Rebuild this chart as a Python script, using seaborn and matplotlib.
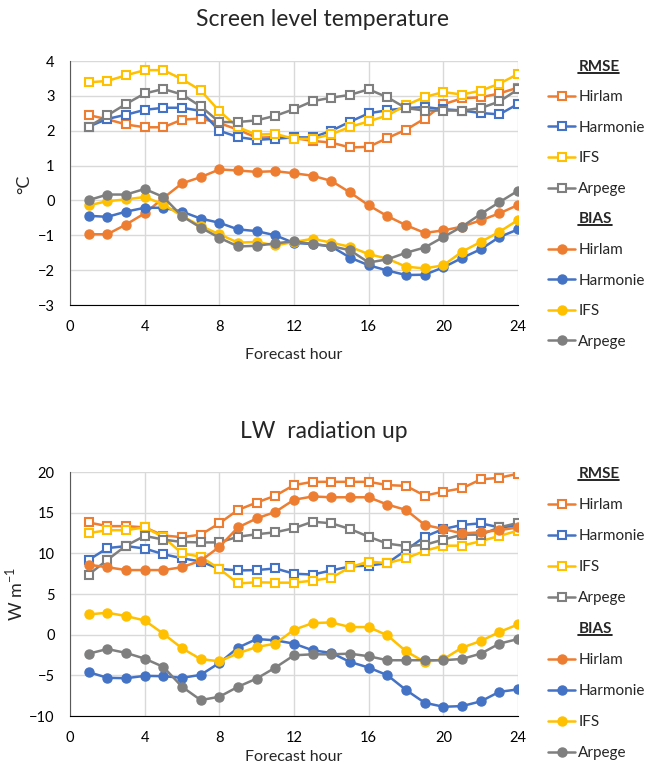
import matplotlib
matplotlib.use("Agg")
import matplotlib.pyplot as plt
from matplotlib.lines import Line2D
from matplotlib.ticker import MultipleLocator
import pandas as pd
import seaborn as sns

hours = list(range(1, 25))
models = ["Hirlam", "Harmonie", "IFS", "Arpege"]
colors = {"Hirlam": "#ED7D31", "Harmonie": "#4472C4", "IFS": "#FFC000", "Arpege": "#7F7F7F"}

# screen level temperature (deg C)
t2m_rmse = {
    "Hirlam": [2.45, 2.33, 2.18, 2.10, 2.10, 2.32, 2.35, 2.22, 2.03, 1.80, 1.82, 1.79,
               1.71, 1.66, 1.52, 1.54, 1.79, 2.03, 2.35, 2.76, 2.93, 2.96, 3.07, 3.24],
    "Harmonie": [2.12, 2.34, 2.46, 2.60, 2.66, 2.66, 2.57, 2.00, 1.82, 1.74, 1.77, 1.81,
                 1.81, 2.00, 2.26, 2.50, 2.59, 2.65, 2.68, 2.62, 2.58, 2.51, 2.47, 2.77],
    "IFS": [3.39, 3.43, 3.59, 3.74, 3.74, 3.48, 3.16, 2.56, 2.10, 1.89, 1.91, 1.77,
            1.77, 1.90, 2.11, 2.27, 2.44, 2.73, 2.97, 3.11, 3.04, 3.15, 3.35, 3.63],
    "Arpege": [2.12, 2.44, 2.77, 3.07, 3.20, 3.04, 2.70, 2.25, 2.25, 2.30, 2.43, 2.62,
               2.85, 2.95, 3.03, 3.19, 2.96, 2.65, 2.58, 2.58, 2.58, 2.65, 2.84, 3.19],
}
t2m_bias = {
    "Hirlam": [-0.97, -0.97, -0.69, -0.37, 0.07, 0.49, 0.67, 0.89, 0.86, 0.82, 0.84, 0.78,
               0.71, 0.56, 0.23, -0.14, -0.45, -0.71, -0.93, -0.86, -0.75, -0.57, -0.37, -0.13],
    "Harmonie": [-0.44, -0.47, -0.32, -0.21, -0.21, -0.32, -0.52, -0.64, -0.83, -0.88, -1.00, -1.22,
                 -1.25, -1.32, -1.64, -1.86, -2.01, -2.14, -2.13, -1.92, -1.65, -1.40, -1.05, -0.83],
    "IFS": [-0.14, -0.02, 0.03, 0.10, -0.11, -0.45, -0.73, -0.97, -1.21, -1.19, -1.29, -1.19,
            -1.10, -1.21, -1.33, -1.54, -1.67, -1.90, -1.95, -1.86, -1.47, -1.19, -0.90, -0.56],
    "Arpege": [0.01, 0.17, 0.17, 0.33, 0.10, -0.45, -0.78, -1.07, -1.32, -1.30, -1.23, -1.17,
               -1.25, -1.31, -1.43, -1.78, -1.69, -1.50, -1.35, -1.05, -0.75, -0.39, -0.05, 0.28],
}

# longwave radiation up (W m-1)
lw_rmse = {
    "Hirlam": [13.8, 13.35, 13.35, 13.2, 12.2, 12.0, 12.3, 13.7, 15.35, 16.25, 17.1, 18.4,
               18.8, 18.8, 18.8, 18.8, 18.4, 18.3, 17.1, 17.6, 18.0, 19.1, 19.3, 19.8],
    "Harmonie": [9.2, 10.65, 10.9, 10.6, 9.9, 9.4, 9.0, 8.1, 7.9, 7.95, 8.15, 7.5,
                 7.4, 7.9, 8.4, 8.5, 8.8, 10.4, 12.05, 13.0, 13.5, 13.7, 13.2, 13.4],
    "IFS": [12.5, 12.85, 12.85, 13.2, 12.0, 10.0, 9.6, 8.1, 6.3, 6.45, 6.4, 6.4,
            6.65, 7.0, 8.3, 9.0, 8.8, 9.4, 10.3, 10.95, 10.95, 11.5, 12.15, 12.8],
    "Arpege": [7.4, 9.2, 10.95, 12.15, 11.7, 11.4, 11.35, 11.35, 12.05, 12.35, 12.6, 13.1,
               13.9, 13.7, 13.0, 12.05, 11.2, 10.9, 11.05, 11.7, 12.3, 12.3, 13.2, 13.75],
}
lw_bias = {
    "Hirlam": [8.6, 8.3, 7.95, 7.95, 7.95, 8.3, 9.1, 10.8, 13.2, 14.3, 15.1, 16.6,
               17.0, 16.9, 16.9, 16.9, 16.0, 15.35, 13.5, 13.0, 12.45, 12.6, 12.85, 13.2],
    "Harmonie": [-4.6, -5.3, -5.35, -5.06, -5.1, -5.3, -4.94, -3.47, -1.59, -0.53, -0.69, -1.10,
                 -1.92, -2.24, -3.35, -4.04, -4.98, -6.8, -8.37, -8.86, -8.78, -8.2, -7.02, -6.73],
    "IFS": [2.5, 2.7, 2.3, 1.75, 0.12, -1.67, -3.0, -3.27, -2.29, -1.51, -1.10, 0.61,
            1.43, 1.51, 0.94, 0.94, -0.08, -2.04, -3.35, -3.02, -1.59, -0.78, 0.33, 1.27],
    "Arpege": [-2.33, -1.76, -2.24, -2.94, -3.96, -6.4, -8.04, -7.63, -6.4, -5.39, -4.04, -2.53,
               -2.41, -2.41, -2.33, -2.65, -3.14, -3.14, -3.14, -3.14, -2.98, -2.33, -1.10, -0.53],
}

sns.set_style("white")
plt.rcParams["font.family"] = ["Lato", "DejaVu Sans"]
plt.rcParams["mathtext.fontset"] = "custom"
plt.rcParams["mathtext.rm"] = "Lato"

fig = plt.figure(figsize=(6.46, 7.72), dpi=100)
ax1 = fig.add_axes([0.1084, 0.6049, 0.6935, 0.316])
ax2 = fig.add_axes([0.1084, 0.0725, 0.6935, 0.316])

SQ = dict(marker="s", ms=5.5, mew=1.5)
CI = dict(marker="o", ms=6.5, mew=1)


def draw(ax, rmse, bias):
    for m in models:
        df = pd.DataFrame({"hour": hours, "value": rmse[m]})
        sns.lineplot(data=df, x="hour", y="value", ax=ax, color=colors[m], lw=1.8,
                     mfc="white", mec=colors[m], zorder=3, **SQ)
    for m in models:
        df = pd.DataFrame({"hour": hours, "value": bias[m]})
        sns.lineplot(data=df, x="hour", y="value", ax=ax, color=colors[m], lw=1.8,
                     mfc=colors[m], mec=colors[m], zorder=3, **CI)


def style(ax, ymin, ymax, major, minor, xlab_y):
    ax.set_xlim(0, 24)
    ax.set_ylim(ymin, ymax)
    ax.xaxis.set_major_locator(MultipleLocator(4))
    ax.xaxis.set_minor_locator(MultipleLocator(1))
    ax.yaxis.set_major_locator(MultipleLocator(major))
    ax.yaxis.set_minor_locator(MultipleLocator(minor))
    ax.grid(True, which="major", color="#D9D9D9", lw=1)
    ax.set_axisbelow(True)
    for s in ["top", "right"]:
        ax.spines[s].set_visible(False)
    ax.spines["left"].set_color("#595959")
    ax.spines["bottom"].set_color("black")
    ax.tick_params(which="both", direction="out", colors="black", labelsize=10.5, pad=6)
    ax.tick_params(which="major", length=5, width=1)
    ax.tick_params(which="minor", length=4, width=1)
    ax.tick_params(axis="y", which="both", color="#595959")
    ax.set_xlabel("Forecast hour", fontsize=11.5)
    ax.xaxis.set_label_coords(0.5, xlab_y)

    handles, labels = [], []
    for header, st, fill in [("RMSE", SQ, False), ("BIAS", CI, True)]:
        handles.append(Line2D([], [], linestyle="none"))
        labels.append(header)
        for m in models:
            handles.append(Line2D([], [], color=colors[m], lw=1.8,
                                  mfc=colors[m] if fill else "white", mec=colors[m], **st))
            labels.append(m)
    return handles, labels


leg_kw = dict(loc="upper left", frameon=False, fontsize=11, handlelength=1.8,
              handletextpad=0.2, borderpad=0, borderaxespad=0)
legends = []

draw(ax1, t2m_rmse, t2m_bias)
h, l = style(ax1, -3, 4, 1, 0.2, -0.176)
ax1.set_ylabel("°C", fontsize=13)
ax1.yaxis.set_label_coords(-0.085, 0.496)
fig.text(0.5, 1 - 20 / 772, "Screen level temperature", fontsize=16.5, ha="center", va="center")
legends.append(fig.legend(h, l, bbox_to_anchor=(0.848, 0.9228), labelspacing=1.085, **leg_kw))

draw(ax2, lw_rmse, lw_bias)
h, l = style(ax2, -10, 20, 5, 1, -0.14)
ax2.set_ylabel(r"W m$^{-1}$", fontsize=13)
ax2.yaxis.set_label_coords(-0.10, 0.5)
fig.text(0.502, 1 - 431 / 772, "LW  radiation up", fontsize=16.5, ha="center", va="center")
legends.append(fig.legend(h, l, bbox_to_anchor=(0.848, 0.3945), labelspacing=1.11, **leg_kw))

# bold + underlined group headers in the legends
for leg in legends:
    for t in leg.get_texts():
        if t.get_text() in ("RMSE", "BIAS"):
            t.set_fontweight("bold")
fig.canvas.draw()
renderer = fig.canvas.get_renderer()
inv = fig.transFigure.inverted()
for leg in legends:
    for t in leg.get_texts():
        if t.get_text() in ("RMSE", "BIAS"):
            bb = t.get_window_extent(renderer)
            (x0, y0), (x1, _) = inv.transform([(bb.x0, bb.y0 + 1), (bb.x1, bb.y0 + 1)])
            fig.add_artist(Line2D([x0, x1], [y0, y0], color="black", lw=1.2,
                                  transform=fig.transFigure))

fig.savefig("out.png", dpi=100)
